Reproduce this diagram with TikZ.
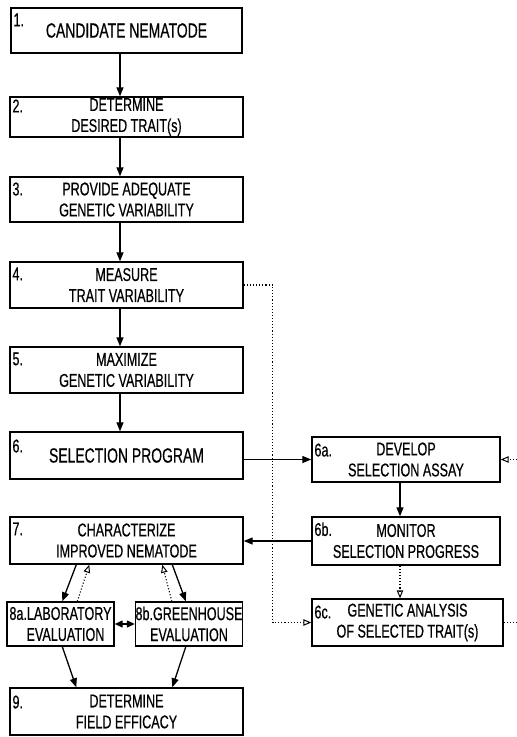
\documentclass[tikz,border=0pt]{standalone}
\usepackage{fontspec}
\setmainfont{Liberation Sans}[FakeStretch=0.68,FakeBold=0.5]
\usetikzlibrary{arrows.meta,calc}
\begin{document}
\begin{tikzpicture}[x=1pt,y=-1pt,
  box/.style={draw, line width=1.4pt, inner sep=0pt, align=center,
    font=\fontsize{18.5}{21}\selectfont},
  bigtext/.style={font=\fontsize{20.5}{24}\selectfont},
  num/.style={anchor=north west, inner sep=0pt, font=\fontsize{18.5}{20}\selectfont},
  arr/.style={line width=1.3pt, -{Triangle[length=9pt,width=7pt]}},
  dblarr/.style={line width=1.3pt, {Triangle[length=8pt,width=7pt]}-{Triangle[length=8pt,width=7pt]}},
  darr/.style={line width=1.1pt, dotted, -{Triangle[open,length=8pt,width=6.5pt,line width=1pt]}},
  dline/.style={line width=1.1pt, dotted}]
\useasboundingbox (0,0) rectangle (517,737);
% column coordinates
\coordinate (ax) at (120,0);
\coordinate (rx) at (400,0);
\coordinate (edgeR) at (517,0);
% left column
\node[box, bigtext, minimum width=231pt, minimum height=45pt] (b1) at (126.5,30.5) {CANDIDATE NEMATODE};
\node[box, minimum width=233pt, minimum height=40pt] (b2) at (126.5,117) {DETERMINE\\DESIRED TRAIT(s)};
\node[box, minimum width=233pt, minimum height=45pt] (b3) at (126.5,199.5) {PROVIDE ADEQUATE\\GENETIC VARIABILITY};
\node[box, minimum width=233pt, minimum height=46pt] (b4) at (126.5,285) {MEASURE\\TRAIT VARIABILITY};
\node[box, minimum width=233pt, minimum height=46pt] (b5) at (126.5,370) {MAXIMIZE\\GENETIC VARIABILITY};
\node[box, bigtext, minimum width=233pt, minimum height=47pt] (b6) at (126.5,455.5) {SELECTION PROGRAM};
\node[box, minimum width=233pt, minimum height=47pt] (b7) at (126.5,540.5) {CHARACTERIZE\\IMPROVED NEMATODE};
\node[box, minimum width=107pt, minimum height=44pt] (b8a) at (60.5,624) {8a.LABORATORY\\\hspace*{10pt}EVALUATION};
\node[box, minimum width=106pt, minimum height=44pt] (b8b) at (189,624) {8b.GREENHOUSE\\EVALUATION};
\node[box, minimum width=233pt, minimum height=47pt] (b9) at (126.5,711.5) {DETERMINE\\FIELD EFFICACY};
% right column
\node[box, minimum width=188pt, minimum height=45pt] (b6a) at (406,459.5) {DEVELOP\\SELECTION ASSAY};
\node[box, minimum width=188pt, minimum height=48pt] (b6b) at (406,541) {MONITOR\\SELECTION PROGRESS};
\node[box, minimum width=191pt, minimum height=47pt] (b6c) at (407.5,622.5) {GENETIC ANALYSIS\\OF SELECTED TRAIT(s)};
% number labels
\node[num] (n1) at ($(b1.north west)+(3,6)$) {1.};
\node[num] (n2) at ($(b2.north west)+(3,3)$) {2.};
\node[num] (n3) at ($(b3.north west)+(3,6)$) {3.};
\node[num] (n4) at ($(b4.north west)+(3,6)$) {4.};
\node[num] (n5) at ($(b5.north west)+(3,6)$) {5.};
\node[num] (n6) at ($(b6.north west)+(3,8)$) {6.};
\node[num] (n7) at ($(b7.north west)+(3,6)$) {7.};
\node[num] (n9) at ($(b9.north west)+(3,8)$) {9.};
\node[num] (n6a) at ($(b6a.north west)+(3,7)$) {6a.};
\node[num] (n6b) at ($(b6b.north west)+(3,6)$) {6b.};
\node[num] (n6c) at ($(b6c.north west)+(3,7)$) {6c.};
% main column arrows
\draw[arr] (b1.south -| ax) -- (b2.north -| ax);
\draw[arr] (b2.south -| ax) -- (b3.north -| ax);
\draw[arr] (b3.south -| ax) -- (b4.north -| ax);
\draw[arr] (b4.south -| ax) -- (b5.north -| ax);
\draw[arr] (b5.south -| ax) -- (b6.north -| ax);
% right branch
\draw[arr] (b6a.west -| b6.east) -- (b6a.west);
\draw[arr] (b6a.south -| rx) -- (b6b.north -| rx);
\draw[arr] (b6b.west) -- (b6b.west -| b7.east);
\draw[darr] (b6b.south -| rx) -- (b6c.north -| rx);
\draw[darr] (b4.east) -- ++(29,0) |- (b6c.west);
\draw[dline] (b6c.east) -- (b6c.east -| edgeR);
\draw[darr] (b6a.east -| edgeR) -- (b6a.east);
% evaluation arrows
\draw[arr] ($(b7.south west)+(67,0)$) -- ($(b8a.north west)+(56,0)$);
\draw[darr] ($(b8a.north west)+(71,0)$) -- ($(b7.south west)+(80,0)$);
\draw[darr] ($(b8b.north west)+(37,0)$) -- ($(b7.south west)+(153,0)$);
\draw[arr] ($(b7.south west)+(163,0)$) -- ($(b8b.north west)+(51,0)$);
\draw[dblarr] (b8a.east) -- (b8b.west);
\draw[arr] ($(b8a.south west)+(56,0)$) -- ($(b9.north west)+(67,0)$);
\draw[arr] ($(b8b.south west)+(51,0)$) -- ($(b9.north west)+(163,0)$);
\end{tikzpicture}
\end{document}
